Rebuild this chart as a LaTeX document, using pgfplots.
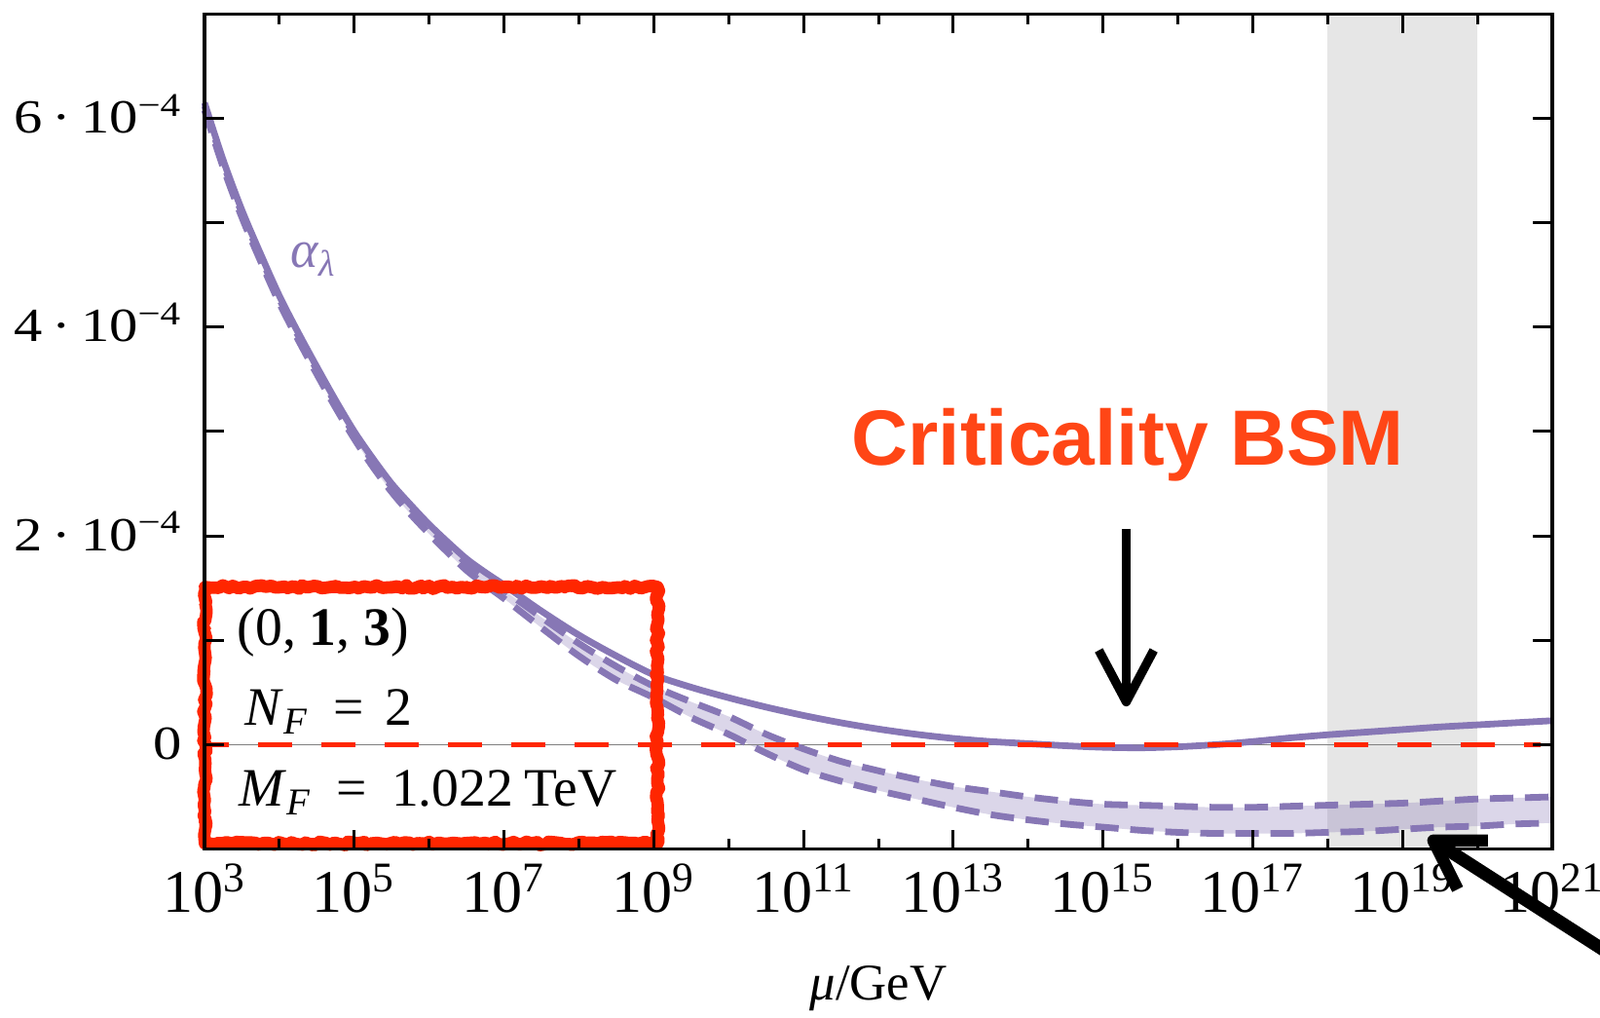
\documentclass[border=0pt]{standalone}
\usepackage{fontspec}
\setmainfont{Liberation Serif}
\newfontfamily\sansfam{Liberation Sans}
\newfontfamily\ytfont[FakeStretch=1.2]{Liberation Serif}
\usepackage{pgfplots}
\pgfplotsset{compat=1.18}
\usepgfplotslibrary{fillbetween}
\usetikzlibrary{decorations.pathmorphing}

\definecolor{lam}{RGB}{135,119,181}
\definecolor{bandgray}{RGB}{230,230,230}
\definecolor{boxred}{RGB}{255,38,0}
\definecolor{txtred}{RGB}{255,70,22}

% L = log10(mu/GeV); values in units of 1e-4
\pgfplotstableread{
L     S     U     Lo
3.00  6.15  6.12  6.08
3.25  5.60  5.57  5.53
3.50  5.12  5.09  5.05
3.75  4.70  4.67  4.63
4.00  4.30  4.27  4.23
4.25  3.95  3.92  3.88
4.50  3.62  3.59  3.55
4.75  3.30  3.27  3.23
5.00  3.00  2.97  2.93
5.25  2.74  2.71  2.66
5.50  2.50  2.47  2.42
5.75  2.30  2.27  2.21
6.00  2.11  2.08  2.02
6.25  1.94  1.90  1.84
6.50  1.78  1.74  1.67
6.75  1.65  1.61  1.53
7.00  1.53  1.48  1.40
7.50  1.28  1.22  1.12
8.00  1.05  0.97  0.85
8.50  0.85  0.75  0.62
9.00  0.67  0.56  0.45
9.50  0.55  0.41  0.26
10.0  0.45  0.27  0.10
10.5  0.36  0.10 -0.08
11.0  0.28 -0.04 -0.24
11.5  0.21 -0.16 -0.35
12.0  0.15 -0.25 -0.44
12.5  0.10 -0.33 -0.52
13.0  0.06 -0.40 -0.60
13.5  0.03 -0.45 -0.67
14.0  0.01 -0.50 -0.72
14.5 -0.01 -0.54 -0.76
15.0 -0.025 -0.57 -0.79
15.5 -0.03 -0.58 -0.82
16.0 -0.02 -0.59 -0.84
16.5  0.00 -0.60 -0.85
17.0  0.03 -0.60 -0.85
17.5  0.065 -0.59 -0.85
18.0  0.095 -0.58 -0.84
18.5  0.12 -0.57 -0.83
19.0  0.145 -0.56 -0.81
19.5  0.17 -0.54 -0.79
20.0  0.19 -0.52 -0.78
20.5  0.21 -0.51 -0.76
21.0  0.23 -0.50 -0.75
}\datatab

\begin{document}
\begin{tikzpicture}
\begin{axis}[
  name=ax, set layers,
  scale only axis, width=346pt, height=214.3pt,
  xmin=3, xmax=21, ymin=-1, ymax=7,
  axis on top, clip=false,
  axis line style={line width=0.85pt},
  tick style={line width=0.75pt, black},
  tick align=inside,
  xtick pos=both, ytick pos=both,
  xticklabel pos=lower, yticklabel pos=left,
  major tick length=5pt, minor tick length=2.75pt,
  xtick={3,5,...,21},
  minor xtick={4,6,...,20},
  xticklabels={10\textsuperscript{3},10\textsuperscript{5},10\textsuperscript{7},10\textsuperscript{9},10\textsuperscript{11},10\textsuperscript{13},10\textsuperscript{15},10\textsuperscript{17},10\textsuperscript{19},10\textsuperscript{21}},
  ytick={0,1,...,6},
  yticklabels={0,{},{2\hspace{0.2em}·\hspace{0.2em}10\textsuperscript{−4}},{},{4\hspace{0.2em}·\hspace{0.2em}10\textsuperscript{−4}},{},{6\hspace{0.2em}·\hspace{0.2em}10\textsuperscript{−4}}},
  xticklabel style={font=\fontsize{15.5}{18}\selectfont, anchor=base, inner sep=0pt, yshift=-16.25pt},
  yticklabel style={font=\ytfont\fontsize{12.2}{14}\selectfont, anchor=base east, inner sep=0pt, xshift=-5.5pt, yshift=-3.75pt},
  xlabel={\textit{μ}/GeV},
  xlabel style={font=\fontsize{13.2}{16}\selectfont, at={(axis description cs:0.5,0)}, anchor=base, inner sep=0pt, yshift=-38.75pt},
]
% Planck band
\begin{pgfonlayer}{axis background}
\fill[bandgray] (axis cs:18,-1) rectangle (axis cs:20,7);
\end{pgfonlayer}

\addplot[name path=up, draw=none, forget plot, smooth] table[x=L,y=U]{\datatab};
\addplot[name path=lo, draw=none, forget plot, smooth] table[x=L,y=Lo]{\datatab};
\addplot[fill=lam, fill opacity=0.3, draw=none] fill between[of=up and lo];

\draw[gray, line width=0.3pt] (axis cs:3,0) -- (axis cs:21,0);

\addplot[lam, line width=1.7pt, dash pattern=on 6pt off 3pt, smooth] table[x=L,y=U]{\datatab};
\addplot[lam, line width=1.7pt, dash pattern=on 6pt off 3pt, smooth] table[x=L,y=Lo]{\datatab};
\addplot[lam, line width=1.7pt, smooth] table[x=L,y=S]{\datatab};

% zero line
\draw[boxred, line width=1.45pt, dash pattern=on 8.75pt off 7.5pt, dash phase=2.5pt] (axis cs:3,0) -- (axis cs:20.85,0);

% labels
\node[anchor=base west, inner sep=0pt, text=lam, font=\fontsize{13.5}{16}\selectfont] at (axis cs:4.14,4.57) {\textit{α}\textsubscript{\textit{λ}}};
\node[anchor=base, inner sep=0pt, text=txtred, font=\sansfam\bfseries\fontsize{20.1}{24}\selectfont] at (axis cs:15.33,2.68) {Criticality BSM};

% vertical arrow
\draw[black, line width=2.3pt] (axis cs:15.31,2.07) -- ([yshift=2pt]axis cs:15.31,0.41);
\draw[black, line width=2.3pt, line join=round] ([shift={(118:15pt)}]axis cs:15.31,0.41) -- (axis cs:15.31,0.41) -- ([shift={(62:15pt)}]axis cs:15.31,0.41);

% rough red box
\draw[boxred, line width=3.2pt, line join=round, line cap=round, decorate, decoration={random steps, segment length=1.2pt, amplitude=0.45pt}]
  (axis cs:3.006,-0.946) rectangle (axis cs:9.05,1.51);
\draw[boxred, line width=0.9pt, line join=round, line cap=round, decorate, decoration={random steps, segment length=0.7pt, amplitude=1.2pt}]
  (axis cs:3.006,-0.946) rectangle (axis cs:9.05,1.51);

\node[anchor=base west, inner sep=0pt, font=\fontsize{13.9}{16}\selectfont] at (axis cs:3.43,0.948) {(0, \textbf{1}, \textbf{3})};
\node[anchor=base west, inner sep=0pt, font=\fontsize{13.9}{16}\selectfont] at (axis cs:3.53,0.183) {\textit{N}\textsubscript{\textit{F}}\hspace{0.45em}=\hspace{0.4em}2};
\node[anchor=base west, inner sep=0pt, font=\fontsize{13.9}{16}\selectfont] at (axis cs:3.455,-0.59) {\textit{M}\textsubscript{\textit{F}}\hspace{0.45em}=\hspace{0.45em}1.022\hspace{0.2em}TeV};

% diagonal arrow
\draw[black, line width=3.3pt] ([shift={(-32.7:2pt)}]axis cs:19.41,-0.918) -- ([shift={(-32.7:120pt)}]axis cs:19.41,-0.918);
\draw[black, line width=3.1pt, line join=round] ([shift={(0:14pt)}]axis cs:19.41,-0.918) -- (axis cs:19.41,-0.918) -- ([shift={(-63.4:14pt)}]axis cs:19.41,-0.918);
\end{axis}
\pgfresetboundingbox
\path[use as bounding box] ([shift={(-52.5pt,-43.25pt)}]ax.south west) rectangle ([shift={(12.25pt,3.6pt)}]ax.north east);
\end{tikzpicture}
\end{document}
